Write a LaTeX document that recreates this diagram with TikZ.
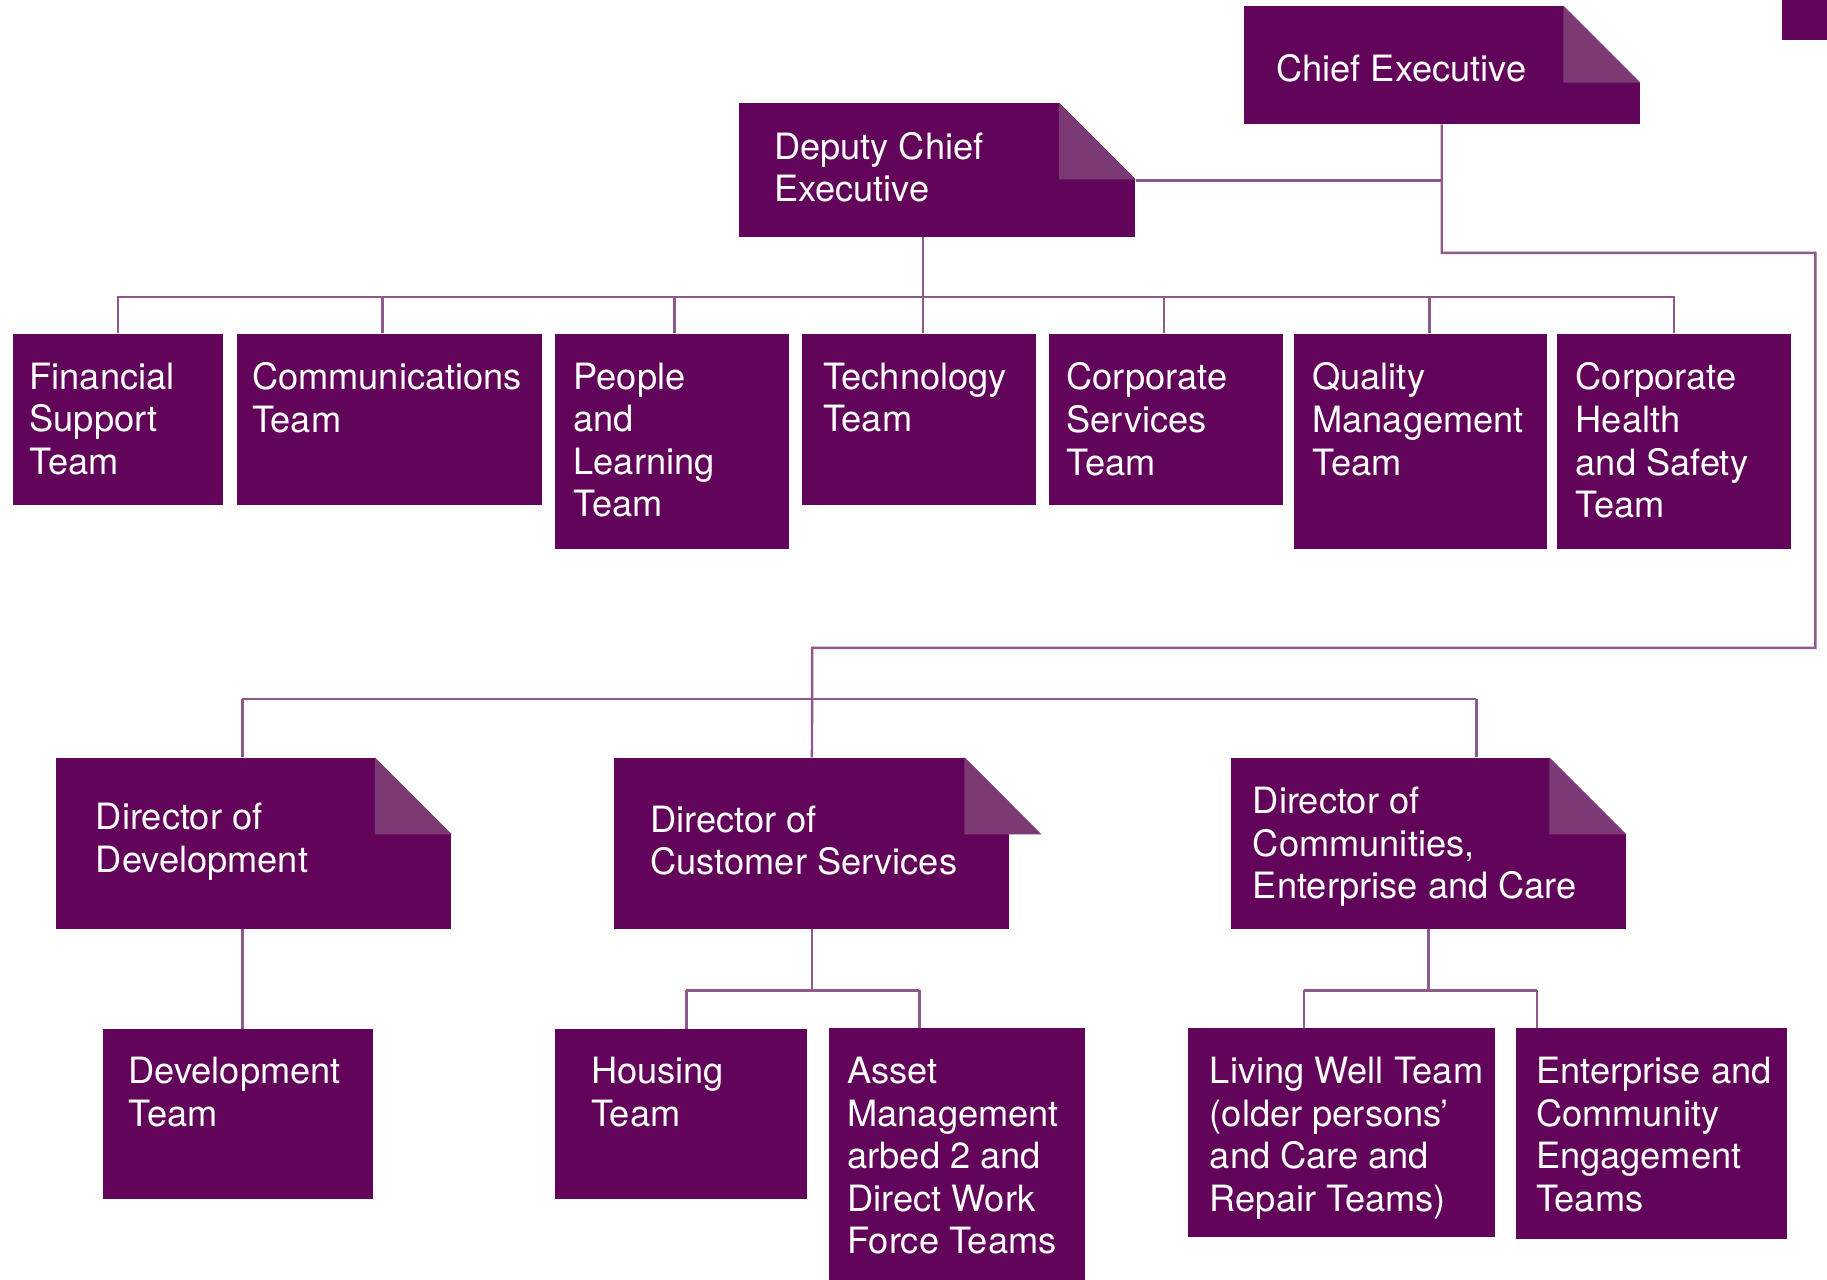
\documentclass[tikz,border=0pt]{standalone}
\usepackage{fontspec}
\setmainfont{TeX Gyre Heros}
\usetikzlibrary{calc}
\definecolor{plum}{HTML}{63045B}
\definecolor{plumFold}{HTML}{7B3A74}
\definecolor{plumLine}{HTML}{8E5A8B}
\def\u{0.02cm}
\def\F{66}

\begin{document}
\begin{tikzpicture}[
    x=\u, y=-\u,
    every node/.style={font=\fontsize{17.7}{20.8}\selectfont},
    unit/.style={fill=plum, draw=none, inner sep=0, anchor=north west},
    size/.style 2 args={minimum width=#1*\u, minimum height=#2*\u},
    txt/.style={text=white, inner sep=0, anchor=north west, align=left},
    fold/.style={fill=plumFold, draw=none},
    link/.style={draw=plumLine, line width=1.2pt},
    ]

\useasboundingbox (0,0) rectangle (1568,1098);

% corner tab
\fill[plum] (1529,0) rectangle (1568,34);

% ====================================================================
% Executive level
% ====================================================================
\node[unit, size={340}{101}] (ce) at (1067,5) {};
\node[txt] (ce-t) at (1095,46) {Chief Executive};

\node[unit, size={340}{115}] (dce) at (634,88) {};
\node[txt] (dce-t) at (664,113) {Deputy Chief\\Executive};

% ====================================================================
% Teams under the deputy
% ====================================================================
\node[unit, size={180}{147}] (fin) at (11,286) {};
\node[txt] (fin-t) at (25,311) {Financial\\Support\\Team};

\node[unit, size={262}{147}] (comm) at (203,286) {};
\node[txt] (comm-t) at (216,311) {Communications\\Team};

\node[unit, size={201}{185}] (ppl) at (476,286) {};
\node[txt] (ppl-t) at (492,311) {People\\and\\Learning\\Team};

\node[unit, size={201}{147}] (tech) at (688,286) {};
\node[txt] (tech-t) at (706,311) {Technology\\Team};

\node[unit, size={201}{147}] (corp) at (900,286) {};
\node[txt] (corp-t) at (915,311) {Corporate\\Services\\Team};

\node[unit, size={217}{185}] (qual) at (1110,286) {};
\node[txt] (qual-t) at (1126,311) {Quality\\Management\\Team};

\node[unit, size={201}{185}] (chs) at (1336,286) {};
\node[txt] (chs-t) at (1352,311) {Corporate\\Health\\and Safety\\Team};

% ====================================================================
% Directors
% ====================================================================
\node[unit, size={339}{147}] (dd) at (48,650) {};
\node[txt] (dd-t) at (82,689) {Director of\\Development};

\node[unit, size={339}{147}] (dcs) at (527,650) {};
\node[txt] (dcs-t) at (558,691) {Director of\\Customer Services};

\node[unit, size={339}{147}] (dcec) at (1056,650) {};
\node[txt] (dcec-t) at (1075,675) {Director of\\Communities,\\Enterprise and Care};

% folded corners
\foreach \n/\dx in {ce/0, dce/0, dd/0, dcs/27, dcec/0} {
  \coordinate (c) at ($(\n.north east)+(\dx,0)$);
  \fill[white] ($(c)+(-\F,0)$) -- (c) -- ($(c)+(0,\F)$) -- cycle;
  \fill[fold] ($(c)+(-\F,0)$) -- ($(c)+(-\F,\F)$) -- ($(c)+(0,\F)$) -- cycle;
}

% ====================================================================
% Teams under the directors
% ====================================================================
\node[unit, size={232}{146}] (dev) at (88,883) {};
\node[txt] (dev-t) at (110,907) {Development\\Team};

\node[unit, size={216}{146}] (house) at (476,883) {};
\node[txt] (house-t) at (507,907) {Housing\\Team};

\node[unit, size={220}{216}] (asset) at (711,882) {};
\node[txt] (asset-t) at (727,907) {Asset\\Management\\arbed 2 and\\Direct Work\\Force Teams};

\node[unit, size={264}{179}] (live) at (1019,882) {};
\node[txt] (live-t) at (1038,907) {Living Well Team\\(older persons’\\and Care and\\Repair Teams)};

\node[unit, size={232}{181}] (ent) at (1301,882) {};
\node[txt] (ent-t) at (1318,907) {Enterprise and\\Community\\Engagement\\Teams};

% ====================================================================
% Connectors
% ====================================================================
\coordinate (ceJoin) at (1237,155);
\coordinate (loopR) at (1558,217);
\coordinate (dirTop) at (697,556);
\coordinate (bus1) at (792,255);
\coordinate (bus2a) at (208,600);
\coordinate (bus2b) at (1267,600);
\coordinate (bus3a) at (589,850);
\coordinate (bus3b) at (789,850);
\coordinate (bus3c) at (1119,850);
\coordinate (bus3d) at (1319,850);

\draw[link] (ce.south) |- (loopR) |- (dirTop) -- (dcs.north);
\draw[link] (dce.east |- ceJoin) -- (ceJoin);

\draw[link] (bus1 |- dce.south) -- (bus1 |- tech.north);
\foreach \t/\dx in {fin/0, comm/-6, ppl/2, corp/-2, qual/8, chs/0}
  \draw[link] ([xshift=\dx*\u]\t.north) |- (bus1);

\draw[link] (bus2a) -- (bus2b);
\draw[link] (bus2a) -- (bus2a |- dd.north);
\draw[link] (bus2b) -- (bus2b |- dcec.north);

\draw[link] (bus2a |- dd.south) -- (bus2a |- dev.north);

\draw[link] (dcs.south) -- (dcs.south |- bus3a);
\draw[link] (bus3a) -- (bus3b);
\draw[link] (bus3a) -- (bus3a |- house.north);
\draw[link] (bus3b) -- (bus3b |- asset.north);

\draw[link] (dcec.south) -- (dcec.south |- bus3c);
\draw[link] (bus3c) -- (bus3d);
\draw[link] (bus3c) -- (bus3c |- live.north);
\draw[link] (bus3d) -- (bus3d |- ent.north);

\end{tikzpicture}
\end{document}
